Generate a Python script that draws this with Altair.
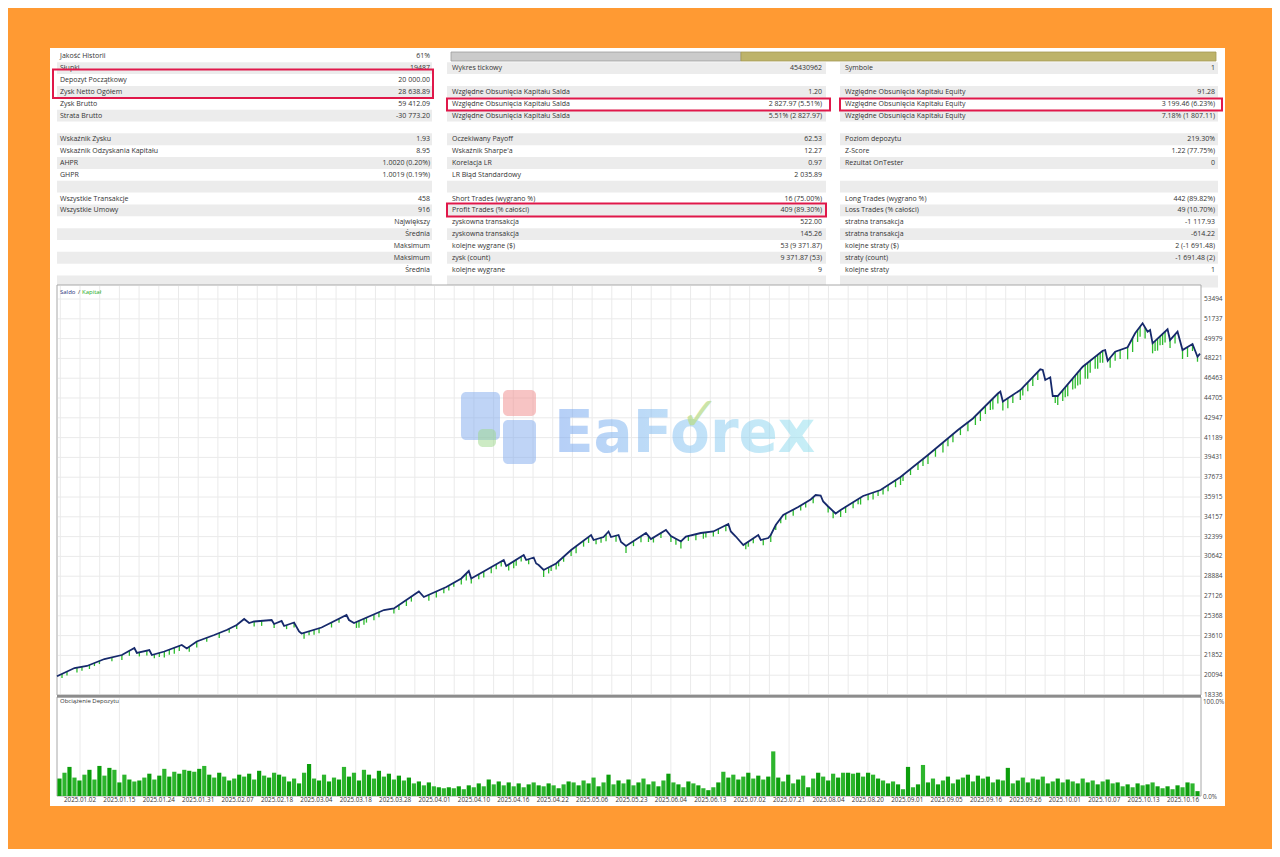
import altair as alt
import pandas as pd
import numpy as np

W, H = 1264, 841
BG = "#FF9A33"
FONT = "Open Sans"

# ---------------- table content ----------------
left_labels = ["Jakość Historii", "Słupki", "Depozyt Początkowy", "Zysk Netto Ogółem", "Zysk Brutto",
               "Strata Brutto", "", "Wskaźnik Zysku", "Wskaźnik Odzyskania Kapitału", "AHPR", "GHPR", "",
               "Wszystkie Transakcje", "Wszystkie Umowy", "", "", "", "", ""]
left_values = ["61%", "19487", "20 000.00", "28 638.89", "59 412.09", "-30 773.20", "", "1.93", "8.95",
               "1.0020 (0.20%)", "1.0019 (0.19%)", "", "458", "916", "Największy", "Średnia", "Maksimum",
               "Maksimum", "Średnia"]
mid_labels = ["", "Wykres tickowy", "", "Względne Obsunięcia Kapitału Salda", "Względne Obsunięcia Kapitału Salda",
              "Względne Obsunięcia Kapitału Salda", "", "Oczekiwany Payoff", "Wskaźnik Sharpe'a", "Korelacja LR",
              "LR Błąd Standardowy", "", "Short Trades (wygrano %)", "Profit Trades (% całości)",
              "zyskowna transakcja", "zyskowna transakcja", "kolejne wygrane ($)", "zysk (count)", "kolejne wygrane"]
mid_values = ["", "45430962", "", "1.20", "2 827.97 (5.51%)", "5.51% (2 827.97)", "", "62.53", "12.27", "0.97",
              "2 035.89", "", "16 (75.00%)", "409 (89.30%)", "522.00", "145.26", "53 (9 371.87)",
              "9 371.87 (53)", "9"]
right_labels = ["", "Symbole", "", "Względne Obsunięcia Kapitału Equity", "Względne Obsunięcia Kapitału Equity",
                "Względne Obsunięcia Kapitału Equity", "", "Poziom depozytu", "Z-Score", "Rezultat OnTester", "",
                "", "Long Trades (wygrano %)", "Loss Trades (% całości)", "stratna transakcja",
                "stratna transakcja", "kolejne straty ($)", "straty (count)", "kolejne straty"]
right_values = ["", "1", "", "91.28", "3 199.46 (6.23%)", "7.18% (1 807.11)", "", "219.30%", "1.22 (77.75%)", "0",
                "", "", "442 (89.82%)", "49 (10.70%)", "-1 117.93", "-614.22", "2 (-1 691.48)",
                "-1 691.48 (2)", "1"]

# ---------------- balance / equity ----------------
bal_t = [0, 7, 12, 19, 26, 31, 32, 37, 38, 43, 50, 52, 56, 63, 68, 72, 75, 77, 79, 86, 87, 90, 91, 95, 97, 98,
         106, 116, 117, 119, 131, 135, 145, 147, 156, 162, 165, 166, 172, 179, 180, 187, 188, 191, 192, 193, 195,
         200, 206, 214, 215, 219, 221, 222, 225, 226, 228, 236, 238, 244, 246, 250, 252, 258, 263, 269, 270, 272,
         275, 281, 282, 285, 286, 288, 291, 297, 302, 304, 306, 307, 309, 312, 314, 323, 330, 338, 349, 361, 367,
         377, 378, 379, 386, 394, 395, 396, 398, 399, 401, 411, 419, 420, 421, 424, 429, 432, 435, 437, 438, 439,
         445, 446, 449, 451, 455, 457, 458]
bal_v = [20000, 20733, 20911, 21532, 21887, 22509, 22065, 22331, 21887, 22198, 22775, 22464, 23086, 23663, 24107,
         24551, 25083, 24728, 24861, 24995, 24639, 24906, 24462, 24773, 23974, 23796, 24329, 25438, 24995, 24728,
         25882, 26016, 27525, 27036, 27924, 28679, 29345, 28679, 29434, 30322, 29789, 30765, 30322, 30543, 30011,
         29877, 29434, 30011, 31209, 32541, 32097, 32363, 32852, 32363, 32541, 31919, 31564, 32718, 32186, 32985,
         32452, 31964, 32408, 32718, 32852, 33517, 32852, 32408, 31653, 32541, 32097, 32275, 32541, 33429, 34316,
         35027, 35692, 36092, 36047, 35515, 35071, 34450, 34760, 36003, 36536, 37690, 39643, 41863, 42884, 45103,
         45281, 44393, 45414, 47252, 47190, 46302, 46542, 44882, 44882, 47483, 48904, 48965, 48016, 48815, 49206,
         50449, 51337, 50591, 50742, 49561, 50804, 49854, 50591, 48965, 49499, 48370, 48639]

# equity dips below balance (trade number, depth in $)
spike_t = [2, 4, 8, 10, 13, 15, 17, 22, 26, 29, 33, 36, 39, 41, 43, 45, 47, 49, 53, 56, 60, 65, 69, 72, 79, 82,
           87, 92, 95, 99, 101, 103, 105, 110, 113, 120, 121, 123, 124, 127, 129,
           135, 137, 140, 142, 149, 152, 155, 157, 159, 162, 164, 166, 169, 171, 174, 176, 178, 181, 183, 184, 186,
           189, 195, 197, 198, 200, 201, 203, 206, 208, 211, 213, 216, 218, 220, 224, 228, 231, 234, 237, 239, 242,
           246, 248, 250, 253, 256,
           259, 260, 263, 265, 268, 276, 277, 279, 283, 286, 288, 290, 292, 295, 298, 300, 303, 309, 311, 314, 316,
           319, 321, 322, 325, 327, 329, 331, 333, 336, 338, 339, 342, 345, 347, 349, 352, 355, 357, 359, 362, 365,
           368, 370, 372, 374, 375, 377, 379, 381,
           383, 386, 387, 389, 391, 393, 400, 401, 403, 404, 405, 407, 408, 409, 410, 412, 413, 414, 416, 417, 418,
           419, 422, 424, 426, 429, 431, 433, 434, 436, 439, 440, 441, 442, 443, 444, 446, 448, 451, 453, 455, 457]
spike_dd = [355, 355, 445, 355, 355, 270, 270, 355, 445, 445, 355, 445, 355, 355, 535, 445, 535, 445, 445, 535,
            355, 445, 355, 355, 445, 445, 355, 355, 445, 535, 355, 445, 445, 445, 355, 535, 620, 535, 445, 535, 445,
            445, 445, 535, 445, 535, 535, 445, 445, 355, 535, 620, 445, 445, 535, 535, 445, 445, 535, 620, 535, 445,
            445, 620, 535, 445, 535, 445, 445, 535, 620, 535, 535, 445, 445, 620, 535, 620, 445, 535, 535, 445, 445,
            535, 535, 620, 445, 535,
            535, 445, 445, 445, 535, 535, 445, 445, 535, 620, 445, 445, 535, 535, 445, 445, 535, 535, 620, 620, 535,
            535, 445, 620, 535, 620, 445, 535, 535, 620, 710, 535, 535, 620, 620, 800, 710, 890, 710, 710, 620, 800,
            800, 890, 710, 800, 975, 890, 800, 890,
            710, 890, 710, 800, 800, 710, 620, 800, 975, 890, 1065, 975, 1155, 1155, 1330, 1245, 1420, 1065, 1065,
            1245, 890, 1065, 890, 800, 800, 1065, 1245, 1065, 890, 975, 890, 890, 1065, 800, 975, 975, 710, 800,
            800, 890, 620, 445]

y_ticks = [53494, 51737, 49979, 48221, 46463, 44705, 42947, 41189, 39431, 37673, 35915, 34157, 32399, 30642,
           28884, 27126, 25368, 23610, 21852, 20094, 18336]

date_labels = ["2025.01.02", "2025.01.15", "2025.01.24", "2025.01.31", "2025.02.07", "2025.02.18", "2025.03.04",
               "2025.03.18", "2025.03.28", "2025.04.01", "2025.04.10", "2025.04.16", "2025.04.22", "2025.05.06",
               "2025.05.23", "2025.06.04", "2025.06.13", "2025.07.02", "2025.07.21", "2025.08.04", "2025.08.20",
               "2025.09.01", "2025.09.05", "2025.09.16", "2025.09.26", "2025.10.01", "2025.10.07", "2025.10.13",
               "2025.10.16"]

load_pct = [18, 24, 30, 19, 16, 22, 27, 17, 31,
            21, 29, 27, 14, 22, 17, 15, 16, 19, 23, 17, 21,
            28, 20, 25, 23, 27, 26, 25, 28,
            31, 22, 19, 24, 20, 16, 18, 22, 20,
            23, 17, 26, 21, 19, 24, 22, 20, 15, 18, 13,
            24, 33, 18, 16,
            22, 15, 19, 17, 30, 20, 24, 16,
            27, 22, 18, 26, 20, 23, 17, 21,
            16, 19, 13, 15, 11, 14,
            10, 9, 8, 9, 8, 10, 7, 11,
            9, 13, 10, 17, 12, 15, 11, 14, 10, 13,
            9, 12, 14, 11, 10, 13, 11, 8,
            12, 15, 14, 11, 16, 13, 19, 10, 14, 22, 12, 16,
            13, 17, 11, 14, 18, 12, 15, 10, 16,
            23, 14, 12, 9, 15, 13, 11,
            8, 6, 9,
            14, 25, 19, 22, 17, 20,
            24, 18, 21, 17, 20,
            46,
            19, 15, 22, 13, 17,
            21, 9, 18, 24, 20, 16, 23, 19,
            24, 24, 23, 24, 20, 24, 22, 18,
            16, 13, 15, 12,
            7, 30, 9, 12,
            32,
            14, 18, 12, 16, 20, 13, 17,
            19, 22, 15, 21, 18, 20, 14, 17, 16,
            29, 13,
            16, 19, 14, 18, 17, 20, 13, 15, 18,
            14, 17, 15, 13, 18, 14, 16, 12, 15, 17, 13, 14,
            10, 12, 9, 13, 11, 12, 14, 10,
            8, 10, 7, 11, 9,
            14, 13, 5]

# ---------------- helpers (layout scale = page pixel coordinates) ----------------
LXS = alt.Scale(domain=[8, 8 + W], range=[0, W], nice=False, zero=False)
LYS = alt.Scale(domain=[8, 8 + H], range=[0, H], nice=False, zero=False)


def lx(f):
    return alt.X(f"{f}:Q", scale=LXS, axis=None)


def ly(f):
    return alt.Y(f"{f}:Q", scale=LYS, axis=None)


def rects(rows, **mark):
    df = pd.DataFrame(rows, columns=["x", "x2", "y", "y2"])
    return alt.Chart(df).mark_rect(**mark).encode(x=lx("x"), x2="x2:Q", y=ly("y"), y2="y2:Q")


ROW_Y0, ROW_H = 56.3, 11.85
COL_L = [57, 447, 840]
COL_R = [432, 826, 1218]
LABEL_X = [60, 452, 845]
VALUE_X = [430, 822, 1215]

layers = []

# white panel
layers.append(rects([[50, 1225, 48, 806]], color="white"))

# row shading
shade = []
for i in range(20):
    if i % 2 == 1:
        for c in range(3):
            shade.append([COL_L[c], COL_R[c], ROW_Y0 + ROW_H * i - ROW_H / 2, ROW_Y0 + ROW_H * i + ROW_H / 2])
layers.append(rects(shade, color="#ECECEC"))

# progress bar
layers.append(rects([[451, 741, 52, 61]], color="#CBCBCB", stroke="#9C9C9C", strokeWidth=0.8))
layers.append(rects([[741, 1216, 52, 61]], color="#BDB36A", stroke="#A59B55", strokeWidth=0.8))

# table text
lab_rows, val_rows = [], []
for c, (labs, vals) in enumerate([(left_labels, left_values), (mid_labels, mid_values), (right_labels, right_values)]):
    for i, (l, v) in enumerate(zip(labs, vals)):
        y = ROW_Y0 + ROW_H * i
        if l:
            lab_rows.append({"x": LABEL_X[c], "y": y, "t": l})
        if v:
            val_rows.append({"x": VALUE_X[c], "y": y, "t": v})
txt_kw = dict(font=FONT, fontSize=7, color="#333333", baseline="middle")
layers.append(alt.Chart(pd.DataFrame(lab_rows)).mark_text(align="left", **txt_kw).encode(
    x=lx("x"), y=ly("y"), text="t:N"))
layers.append(alt.Chart(pd.DataFrame(val_rows)).mark_text(align="right", **txt_kw).encode(
    x=lx("x"), y=ly("y"), text="t:N"))

# ---------------- main chart ----------------
EXS = alt.Scale(domain=[0, 458], range=[57 - 8, 1200 - 8], nice=False, zero=False)
EYS = alt.Scale(domain=[18336, 53494], range=[695 - 8, 299 - 8], nice=False, zero=False)
DXS = alt.Scale(domain=[0, len(date_labels) - 1], range=[80 - 8, 1183 - 8], nice=False, zero=False)

# frames
layers.append(rects([[57, 1201, 285, 695]], fill="white", stroke="#A8A8A8", strokeWidth=1))
layers.append(rects([[57, 1201, 697, 796]], fill="white", stroke="#A8A8A8", strokeWidth=1))

# grid
grid_v = pd.DataFrame({"g": [k / 2 for k in range(-1, 2 * len(date_labels) - 1)]})
layers.append(alt.Chart(grid_v).mark_rule(color="#EAEAEA", strokeWidth=1).encode(
    x=alt.X("g:Q", scale=DXS, axis=None), y=alt.value(286 - 8), y2=alt.value(694 - 8)))
grid_h = pd.DataFrame({"v": y_ticks[:-1]})
layers.append(alt.Chart(grid_h).mark_rule(color="#EAEAEA", strokeWidth=1).encode(
    y=alt.Y("v:Q", scale=EYS, axis=None), x=alt.value(58 - 8), x2=alt.value(1200 - 8)))

# watermark (under the data)
wm_icon = [[461, 500, 392, 440, "b"], [503, 536, 390, 416, "r"], [503, 536, 420, 464, "b"],
           [478, 496, 429, 447, "g"]]
wmi = pd.DataFrame(wm_icon, columns=["x", "x2", "y", "y2", "c"])
layers.append(alt.Chart(wmi).mark_rect(opacity=0.5, cornerRadius=5).encode(
    x=lx("x"), x2="x2:Q", y=ly("y"), y2="y2:Q",
    color=alt.Color("c:N", scale=alt.Scale(domain=["b", "r", "g"], range=["#7FA9EE", "#F08A8A", "#9BD88A"]),
                    legend=None)))
wm = pd.DataFrame([{"x": 554, "y": 452, "t": "EaForex"}])
layers.append(alt.Chart(wm).mark_text(align="left", baseline="alphabetic", font="DejaVu Sans", fontWeight="bold",
                                      fontSize=58, opacity=0.5,
                                      fill=alt.LinearGradient(gradient="linear", x1=0, x2=1, y1=0, y2=0,
                                                              stops=[alt.GradientStop(color="#6FA0F0", offset=0),
                                                                     alt.GradientStop(color="#86C8F2", offset=0.6),
                                                                     alt.GradientStop(color="#8FE0EE", offset=1)])
                                      ).encode(x=lx("x"), y=ly("y"), text="t:N"))
chk = pd.DataFrame([{"x": 700, "y": 430, "t": "✓"}])
layers.append(alt.Chart(chk).mark_text(align="center", baseline="alphabetic", font="DejaVu Sans",
                                       fontSize=46, color="#B9DC8C", opacity=0.75).encode(
    x=lx("x"), y=ly("y"), text="t:N"))

# equity spikes
spk = pd.DataFrame({"t": spike_t, "dd": spike_dd})
spk["top"] = np.interp(spk["t"], bal_t, bal_v)
spk["low"] = spk["top"] - spk["dd"]
layers.append(alt.Chart(spk).mark_rule(color="#2DBB2D", strokeWidth=1.3).encode(
    x=alt.X("t:Q", scale=EXS, axis=None), y=alt.Y("top:Q", scale=EYS, axis=None), y2="low:Q"))

# balance line
bal = pd.DataFrame({"t": bal_t, "v": bal_v})
layers.append(alt.Chart(bal).mark_line(color="#16296B", strokeWidth=1.8).encode(
    x=alt.X("t:Q", scale=EXS, axis=None), y=alt.Y("v:Q", scale=EYS, axis=None)))

# y labels
ylab = pd.DataFrame({"v": y_ticks, "t": [str(v) for v in y_ticks]})
layers.append(alt.Chart(ylab).mark_text(align="left", baseline="middle", font=FONT, fontSize=6.5,
                                        color="#444444").encode(
    y=alt.Y("v:Q", scale=EYS, axis=None), x=alt.value(1204 - 8), text="t:N"))

# legend
leg = pd.DataFrame([{"x": 60, "y": 292, "t": "Saldo", "c": "a"}, {"x": 78, "y": 292, "t": "/", "c": "b"},
                    {"x": 82, "y": 292, "t": "Kapitał", "c": "c"}])
layers.append(alt.Chart(leg).mark_text(align="left", baseline="middle", font=FONT, fontSize=6).encode(
    x=lx("x"), y=ly("y"), text="t:N",
    color=alt.Color("c:N", scale=alt.Scale(domain=["a", "b", "c"], range=["#1F2F7A", "#333333", "#22AA22"]),
                    legend=None)))

# ---------------- bottom chart (deposit load) ----------------
BXS = alt.Scale(domain=[0, len(load_pct)], range=[57 - 8, 1200 - 8], nice=False, zero=False)
BYS = alt.Scale(domain=[0, 100], range=[796 - 8, 699 - 8], nice=False, zero=False)
grid_b = pd.DataFrame({"g": list(range(len(date_labels)))})
layers.append(alt.Chart(grid_b).mark_rule(color="#EAEAEA", strokeWidth=1).encode(
    x=alt.X("g:Q", scale=DXS, axis=None), y=alt.value(698 - 8), y2=alt.value(795 - 8)))
bars = pd.DataFrame({"i": range(len(load_pct)), "p": load_pct})
bars["i0"] = bars["i"] + 0.08
bars["i1"] = bars["i"] + 0.92
bars["s"] = np.where(bars["i"] % 2 == 0, "a", "b")
layers.append(alt.Chart(bars).mark_rect().encode(
    x=alt.X("i0:Q", scale=BXS, axis=None), x2="i1:Q",
    y=alt.Y("p:Q", scale=BYS, axis=None), y2=alt.datum(0),
    color=alt.Color("s:N", scale=alt.Scale(domain=["a", "b"], range=["#0C9E0C", "#2DB52D"]), legend=None)))

# separator between charts
layers.append(rects([[57, 1201, 695, 697.5]], color="#8C8C8C"))

# date labels
dl = pd.DataFrame({"i": range(len(date_labels)), "t": date_labels})
layers.append(alt.Chart(dl).mark_text(align="center", baseline="middle", font=FONT, fontSize=6.3,
                                      color="#333333").encode(
    x=alt.X("i:Q", scale=DXS, axis=None), y=alt.value(800 - 8), text="t:N"))

# misc labels
misc = pd.DataFrame([{"x": 60, "y": 701, "t": "Obciążenie Depozytu"}])
layers.append(alt.Chart(misc).mark_text(align="left", baseline="middle", font=FONT, fontSize=6,
                                        color="#333333").encode(x=lx("x"), y=ly("y"), text="t:N"))
pct = pd.DataFrame([{"x": 1203, "y": 702, "t": "100.0%"}, {"x": 1203, "y": 797, "t": "0.0%"}])
layers.append(alt.Chart(pct).mark_text(align="left", baseline="middle", font=FONT, fontSize=6.3,
                                       color="#444444").encode(x=lx("x"), y=ly("y"), text="t:N"))

# red highlight boxes
layers.append(rects([[53, 433, 69.5, 98], [447, 830, 98.5, 110.5], [840, 1222, 98.5, 110.5],
                     [447, 826, 203.5, 216.5]], fill=None, filled=False, stroke="#E0184A", strokeWidth=2))

chart = alt.layer(*layers).resolve_scale(x="independent", y="independent", color="independent").properties(
    width=W, height=H, background=BG, padding=0,
    autosize=alt.AutoSizeParams(type="none")).configure_view(stroke=None)

chart.save("out.html", embed_options={"renderer": "svg", "actions": False})
